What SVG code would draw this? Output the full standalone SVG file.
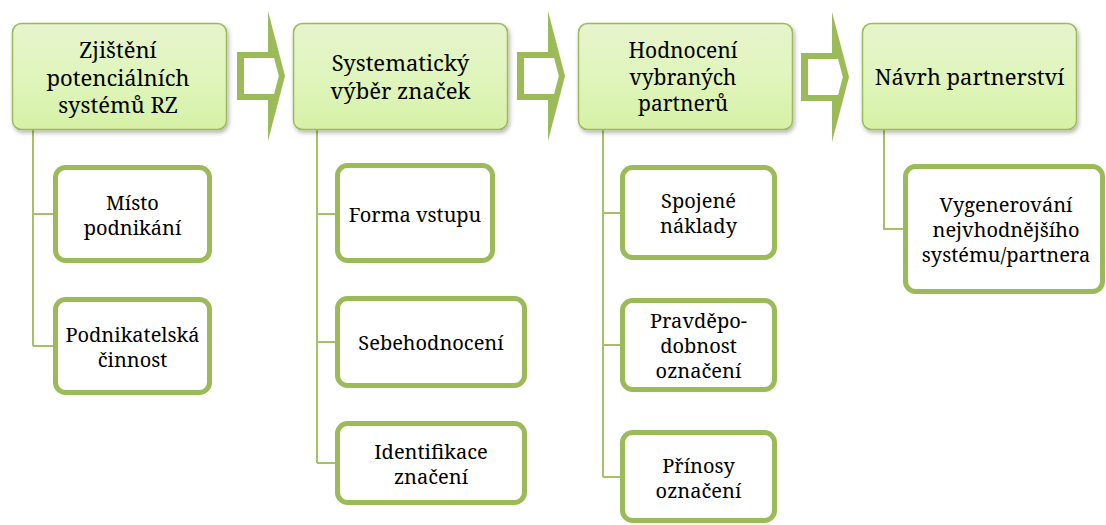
<svg xmlns="http://www.w3.org/2000/svg" width="1106" height="525" viewBox="0 0 1106 525">
<defs>
<linearGradient id="g" x1="0" y1="0" x2="0" y2="1">
<stop offset="0" stop-color="#e6f4cc"/>
<stop offset="0.5" stop-color="#e0f5bd"/>
<stop offset="1" stop-color="#d6f1a6"/>
</linearGradient>
<filter id="sh" x="-10%" y="-10%" width="125%" height="130%">
<feDropShadow dx="1.5" dy="2.5" stdDeviation="2" flood-color="#000" flood-opacity="0.3"/>
</filter>
</defs>
<style>
.top{fill:url(#g);stroke:#9bbb59;stroke-width:1.5;filter:url(#sh)}
.child{fill:#fff;stroke:#9bbb59;stroke-width:5}
.conn{stroke:#a4c264;stroke-width:2;fill:none}
.arr{fill:#9bbb59}
.arrin{fill:#fff}
.t1{font-size:22px}
.t3{font-size:21px}
.c{font-size:20px}
</style>
<rect width="1106" height="525" fill="#fff"/>
<g id="connectors">
<path class="conn" d="M33,129V346M33,214H54M33,346H54"/>
<path class="conn" d="M317,129V463M317,214H336M317,342H336M317,463H336"/>
<path class="conn" d="M603,129V477M603,213H621M603,345H621M603,477H621"/>
<path class="conn" d="M884,128V229H904"/>
</g>
<g id="arrow1">
<polygon class="arr" points="237,52 268,52 268,11 285,76 268,141 268,100 237,100"/>
<polygon class="arrin" points="244,58 274.1,58 278.8,76 274.1,94 244,94"/>
</g>
<g id="arrow2">
<polygon class="arr" points="517,52 548,52 548,11 565,76 548,141 548,100 517,100"/>
<polygon class="arrin" points="524,58 554.1,58 558.8,76 554.1,94 524,94"/>
</g>
<g id="arrow3">
<polygon class="arr" points="801,53 832,53 832,12 849,77 832,142 832,101 801,101"/>
<polygon class="arrin" points="808,59 838.1,59 842.8,77 838.1,95 808,95"/>
</g>
<g fill="#000" text-anchor="middle" font-family="Noto Serif, DejaVu Serif, serif">
<g id="n1">
<rect class="top" x="12.5" y="23.5" width="214" height="106" rx="9"/>
<text class="t1" x="118" y="58">Zjištění</text>
<text class="t1" x="118" y="86">potenciálních</text>
<text class="t1" x="118" y="113">systémů RZ</text>
</g>
<g id="n2">
<rect class="top" x="293.5" y="23.5" width="214" height="106" rx="9"/>
<text class="t1" x="400.5" y="71">Systematický</text>
<text class="t1" x="400.5" y="98.5">výběr značek</text>
</g>
<g id="n3">
<rect class="top" x="578.5" y="23.5" width="214" height="106" rx="9"/>
<text class="t3" x="683" y="58">Hodnocení</text>
<text class="t3" x="683" y="84.5">vybraných</text>
<text class="t3" x="683" y="111">partnerů</text>
</g>
<g id="n4">
<rect class="top" x="862.5" y="23.5" width="214" height="106" rx="9"/>
<text class="t1" x="969.5" y="85">Návrh partnerství</text>
</g>
<g id="c1a">
<rect class="child" x="55.5" y="167.5" width="154" height="93" rx="10"/>
<text class="c" x="132.5" y="209.5">Místo</text>
<text class="c" x="132.5" y="234.5">podnikání</text>
</g>
<g id="c1b">
<rect class="child" x="55.5" y="299.5" width="154" height="93" rx="10"/>
<text class="c" x="132.5" y="341.5">Podnikatelská</text>
<text class="c" x="132.5" y="366.5">činnost</text>
</g>
<g id="c2a">
<rect class="child" x="337.5" y="165.5" width="155" height="95" rx="10"/>
<text class="c" x="415" y="221.5">Forma vstupu</text>
</g>
<g id="c2b">
<rect class="child" x="337.5" y="298.5" width="187" height="87" rx="10"/>
<text class="c" x="431" y="350">Sebehodnocení</text>
</g>
<g id="c2c">
<rect class="child" x="337.5" y="423.5" width="187" height="79" rx="10"/>
<text class="c" x="431" y="458.5">Identifikace</text>
<text class="c" x="431" y="483.5">značení</text>
</g>
<g id="c3a">
<rect class="child" x="622.5" y="167.5" width="152" height="90" rx="10"/>
<text class="c" x="698.5" y="208">Spojené</text>
<text class="c" x="698.5" y="233">náklady</text>
</g>
<g id="c3b">
<rect class="child" x="622.5" y="300.5" width="152" height="89" rx="10"/>
<text class="c" x="698.5" y="328">Pravděpo-</text>
<text class="c" x="698.5" y="353">dobnost</text>
<text class="c" x="698.5" y="378">označení</text>
</g>
<g id="c3c">
<rect class="child" x="622.5" y="432.5" width="152" height="88" rx="10"/>
<text class="c" x="698.5" y="472.5">Přínosy</text>
<text class="c" x="698.5" y="497.5">označení</text>
</g>
<g id="c4">
<rect class="child" x="905.5" y="166.5" width="197" height="125" rx="10"/>
<text class="c" x="1006" y="212">Vygenerování</text>
<text class="c" x="1006" y="237">nejvhodnějšího</text>
<text class="c" x="1006" y="262">systému/partnera</text>
</g>
</g>
</svg>
